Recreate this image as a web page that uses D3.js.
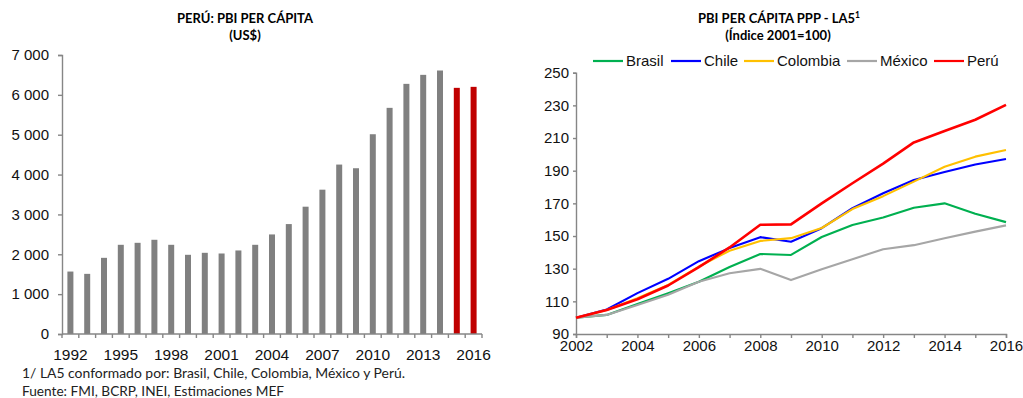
<!DOCTYPE html>
<html>
<head>
<meta charset="utf-8">
<script src="https://cdn.jsdelivr.net/npm/d3@7"></script>
<style>
  html, body { margin: 0; padding: 0; background: #fff; }
  svg { display: block; }
</style>
</head>
<body>
<svg id="chart" width="1023" height="398"></svg>
<script>
// ---- Left panel: Perú GDP per capita (US$) ----
const barYears = d3.range(1992, 2017);
const barValues = [1567, 1509, 1911, 2238, 2288, 2364, 2238, 1987, 2037, 2020,
                   2096, 2238, 2498, 2758, 3194, 3621, 4251, 4159, 5012, 5674,
                   6276, 6502, 6611, 6176, 6201];
const estimatedYears = [2015, 2016];
const barTickLabels = [1992, 1995, 1998, 2001, 2004, 2007, 2010, 2013, 2016];
const barYTicks = [0, 1000, 2000, 3000, 4000, 5000, 6000, 7000];

// ---- Right panel: PPP GDP per capita index, LA5 ----
const lineYears = d3.range(2002, 2017);
const seriesNames = ["Brasil", "Chile", "Colombia", "México", "Perú"];
const brasil   = [100, 101.7, 108.4, 115, 122, 131, 139, 138.4, 149.4, 156.8, 161.3, 167.3, 170, 163.7, 158.5];
const chile    = [100, 105, 115, 123.8, 134.6, 142.6, 149.3, 146.5, 154.8, 167, 176.2, 184.3, 189.2, 193.8, 197.2];
const colombia = [100, 104.7, 111.9, 120, 131.3, 141, 147, 148.7, 154.9, 166.5, 174.4, 183.3, 192.4, 198.6, 202.7];
const mexico   = [100, 101.7, 107.8, 114, 122, 127.2, 129.9, 123, 129.7, 135.8, 141.9, 144.4, 148.6, 152.7, 156.5];
const peru     = [100, 104.7, 111.3, 119.7, 130.9, 143, 156.9, 157.1, 170, 182.3, 194.3, 207.3, 214.3, 221.2, 230.3];
const seriesColors = ["#00B050", "#0000FF", "#FFC000", "#A6A6A6", "#FF0000"];
const lineYTicks = [90, 110, 130, 150, 170, 190, 210, 230, 250];
const lineXTicks = d3.range(2002, 2017);
const lineXLabels = d3.range(2002, 2017, 2);

const svg = d3.select("#chart");
const axisColor = "#868686";
const tickFont = "'Liberation Sans', Arial, sans-serif";
const titleFont = "Lato, 'Open Sans', sans-serif";
const fmt = d3.formatLocale({decimal: ",", thousands: " ", grouping: [3], currency: ["", ""]}).format(",d");

// ================= LEFT: bar chart =================
const xb = d3.scaleBand().domain(barYears).range([62, 482]).paddingInner(0).paddingOuter(0);
const yb = d3.scaleLinear().domain([0, 7000]).range([334, 55]);
const gL = svg.append("g");

gL.selectAll("rect.bar").data(barYears).join("rect")
  .attr("class", "bar")
  .attr("x", d => xb(d) + xb.bandwidth() / 2 - 3)
  .attr("width", 6)
  .attr("y", (d, i) => yb(barValues[i]))
  .attr("height", (d, i) => yb(0) - yb(barValues[i]))
  .attr("fill", d => estimatedYears.includes(d) ? "#C00000" : "#808080");

// y axis
const yAxisL = d3.axisLeft(yb).tickValues(barYTicks).tickFormat(fmt).tickSize(4).tickPadding(9);
const gyL = gL.append("g").attr("transform", "translate(62,0)").call(yAxisL);
// x axis: ticks at category boundaries, labels every three years
const gxL = gL.append("g").attr("transform", "translate(0,334)");
gxL.append("line").attr("x1", 62).attr("x2", 482).attr("y1", 0).attr("y2", 0);
gxL.selectAll("line.tk").data(d3.range(barYears.length + 1)).join("line")
  .attr("class", "tk")
  .attr("x1", i => 62 + i * xb.bandwidth()).attr("x2", i => 62 + i * xb.bandwidth())
  .attr("y1", 0).attr("y2", 4);
gxL.selectAll("text").data(barTickLabels).join("text")
  .attr("x", d => xb(d) + xb.bandwidth() / 2)
  .attr("y", 26)
  .attr("text-anchor", "middle")
  .text(d => d);

// titles
gL.append("text").attr("x", 245).attr("y", 22.5).attr("text-anchor", "middle")
  .attr("font-family", titleFont).attr("font-weight", "bold").attr("font-size", 13)
  .text("PERÚ: PBI PER CÁPITA");
gL.append("text").attr("x", 245).attr("y", 40).attr("text-anchor", "middle")
  .attr("font-family", titleFont).attr("font-weight", "bold").attr("font-size", 13)
  .text("(US$)");

// footnotes
svg.append("text").attr("x", 22).attr("y", 378)
  .attr("font-family", titleFont).attr("font-size", 13.5).attr("fill", "#222")
  .attr("textLength", 383).attr("lengthAdjust", "spacingAndGlyphs")
  .text("1/ LA5 conformado por: Brasil, Chile, Colombia, México y Perú.");
svg.append("text").attr("x", 22).attr("y", 396)
  .attr("font-family", titleFont).attr("font-size", 13.5).attr("fill", "#222")
  .attr("textLength", 262).attr("lengthAdjust", "spacingAndGlyphs")
  .text("Fuente: FMI, BCRP, INEI, Estimaciones MEF");

// ================= RIGHT: line chart =================
const xl = d3.scaleLinear().domain([2002, 2016]).range([576, 1006]);
const yl = d3.scaleLinear().domain([90, 250]).range([334, 72.7]);
const gR = svg.append("g");

const yAxisR = d3.axisLeft(yl).tickValues(lineYTicks).tickFormat(d3.format("d")).tickSize(3).tickPadding(4);
gR.append("g").attr("transform", "translate(576,0)").call(yAxisR);
const xAxisR = d3.axisBottom(xl).tickValues(lineXTicks)
  .tickFormat(d => lineXLabels.includes(d) ? String(d) : "").tickSize(4).tickPadding(2);
gR.append("g").attr("transform", "translate(0,334)").call(xAxisR);

const allSeries = [brasil, chile, colombia, mexico, peru];
const line = d3.line().x((d, i) => xl(lineYears[i])).y(d => yl(d));
gR.selectAll("path.series").data(allSeries).join("path")
  .attr("class", "series")
  .attr("d", line)
  .attr("fill", "none")
  .attr("stroke", (d, i) => seriesColors[i])
  .attr("stroke-width", (d, i) => i === 4 ? 2.6 : 2.1)
  .attr("stroke-linejoin", "round");

// legend
const legendX = [593, 671, 744, 847, 934];
const lg = gR.append("g");
seriesNames.forEach((name, i) => {
  lg.append("line").attr("x1", legendX[i]).attr("x2", legendX[i] + 30)
    .attr("y1", 61).attr("y2", 61)
    .attr("stroke", seriesColors[i]).attr("stroke-width", 2.2);
  lg.append("text").attr("x", legendX[i] + 33).attr("y", 66)
    .attr("font-family", tickFont).attr("font-size", 15).attr("fill", "#111")
    .text(name);
});

// titles
const t1 = gR.append("text").attr("x", 779).attr("y", 22.5).attr("text-anchor", "middle")
  .attr("font-family", titleFont).attr("font-weight", "bold").attr("font-size", 13);
t1.append("tspan").text("PBI PER CÁPITA PPP - LA5");
t1.append("tspan").attr("font-size", 8.5).attr("dy", -5).text("1");
gR.append("text").attr("x", 778).attr("y", 40).attr("text-anchor", "middle")
  .attr("font-family", titleFont).attr("font-weight", "bold").attr("font-size", 13)
  .text("(Índice 2001=100)");

// shared axis styling
svg.selectAll(".domain, .tick line, g line:not([stroke])").attr("stroke", axisColor).attr("stroke-width", 1.4);
gxL.selectAll("line").attr("stroke", axisColor).attr("stroke-width", 1.4);
svg.selectAll(".tick text, g > text").filter(function () { return !this.getAttribute("font-family"); })
  .attr("font-family", tickFont).attr("font-size", 15).attr("fill", "#111");
gxL.selectAll("text").attr("font-family", tickFont).attr("font-size", 15.5).attr("fill", "#111");
svg.selectAll(".tick text").attr("font-family", tickFont).attr("font-size", 15).attr("fill", "#111");
</script>
</body>
</html>
